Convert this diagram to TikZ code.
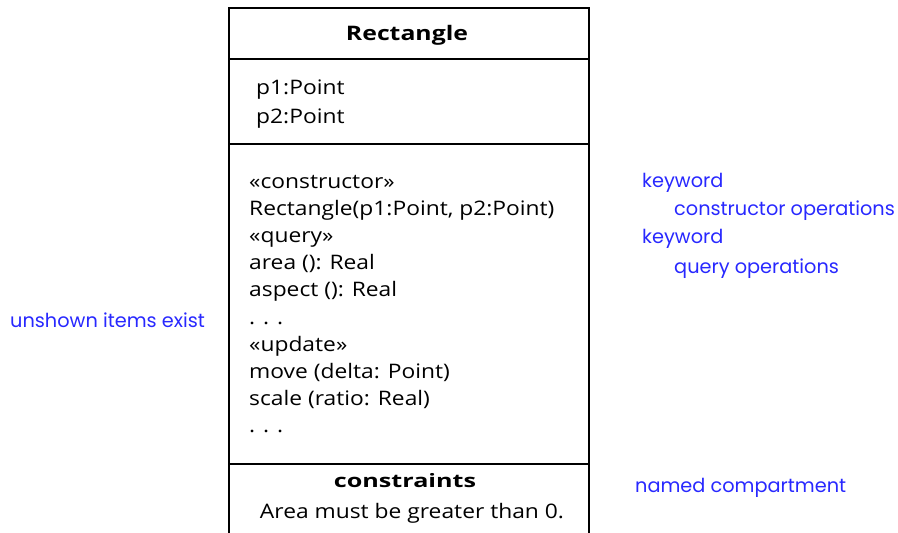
\documentclass[tikz,border=0pt]{standalone}
\usepackage{fontspec}
\setmainfont{Open Sans}[FakeStretch=1.14]
\newfontfamily\boldwide{Open Sans}[FakeStretch=1.24]
\newfontfamily\boldwider{Open Sans}[FakeStretch=1.36]
\newfontfamily\notefont{Poppins}
\definecolor{noteblue}{RGB}{40,40,255}
\begin{document}
\begin{tikzpicture}[x=1pt,y=-1pt,
  boxline/.style={draw=black,line width=1.6pt},
  item/.style={anchor=base west,inner sep=0pt,font=\fontsize{20}{22}\selectfont},
  note/.style={anchor=base west,inner sep=0pt,text=noteblue,font=\notefont\fontsize{19.3}{20}\selectfont}]
\useasboundingbox (0,0) rectangle (898,533);
\begin{scope}
\clip (0,0) rectangle (898,533);
\draw[boxline] (229,560) -- (229,8) -- (589,8) -- (589,560);
\draw[boxline] (229,59) -- (589,59);
\draw[boxline] (229,144) -- (589,144);
\draw[boxline] (229,464) -- (589,464);
\end{scope}
\node[item,anchor=base,font=\boldwide\bfseries\fontsize{20}{24}\selectfont] (title) at (407,40) {Rectangle};
\node[item] (a1) at (256,94) {p1:Point};
\node[item] (a2) at (256,123) {p2:Point};
\node[item] (o1) at (249,188) {«constructor»};
\node[item] (o2) at (249,215) {Rectangle(p1:Point, p2:Point)};
\node[item] (o3) at (249,242) {«query»};
\node[item] (o4) at (249,269) {area (): Real};
\node[item] (o5) at (249,296) {aspect (): Real};
\node[item] (o6) at (249,324) {. . .};
\node[item] (o7) at (249,351) {«update»};
\node[item] (o8) at (249,378) {move (delta: Point)};
\node[item] (o9) at (249,405) {scale (ratio: Real)};
\node[item] (o10) at (249,432) {. . .};
\node[item,anchor=base,font=\boldwider\bfseries\fontsize{18.5}{22}\selectfont] (cn) at (405,487) {constraints};
\node[item,anchor=base] (ct) at (412,518) {Area must be greater than 0.};
\node[note] (k1) at (642,187) {keyword};
\node[note] (k2) at (674,215) {constructor operations};
\node[note] (k3) at (642,243) {keyword};
\node[note] (k4) at (674,273) {query operations};
\node[note] (u) at (10,327) {unshown items exist};
\node[note] (nc) at (635,492) {named compartment};
\end{tikzpicture}
\end{document}
